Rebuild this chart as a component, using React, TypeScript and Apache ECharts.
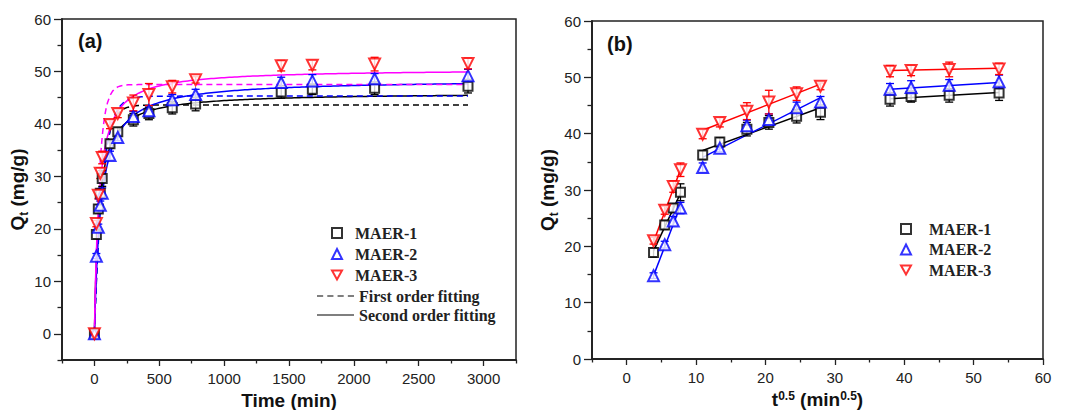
import React, { useEffect, useRef } from "react";
import * as echarts from "echarts";

// contact time (min) and its square root
const times = [0, 15, 30, 45, 60, 120, 180, 300, 420, 600, 780, 1440, 1680, 2160, 2880];
const sqrtTimes = [0, 3.87, 5.48, 6.71, 7.75, 10.95, 13.42, 17.32, 20.49, 24.49, 27.93, 37.95, 40.99, 46.48, 53.67];

// adsorbed amount Qt (mg/g)
const maer1 = [0, 18.9, 23.8, 26.8, 29.6, 36.2, 38.5, 40.8, 42.0, 43.1, 43.8, 46.1, 46.6, 46.8, 47.2];
const maer2 = [0, 14.8, 20.3, 24.5, 26.8, 34.0, 37.4, 41.4, 42.5, 44.6, 45.6, 47.9, 48.2, 48.6, 49.2];
const maer3 = [0, 21.0, 26.4, 30.6, 33.6, 39.9, 42.0, 44.0, 45.6, 47.1, 48.4, 51.1, 51.2, 51.4, 51.5];

// error bar half-widths
const err1 = [0, 0.8, 0.8, 0.8, 1.5, 0.8, 0.8, 1.2, 1.2, 1.2, 1.3, 1.2, 1.0, 1.2, 1.3];
const err2 = [0, 0.5, 0.6, 0.8, 1.0, 0.8, 0.6, 1.0, 1.0, 1.0, 1.0, 1.0, 1.2, 1.0, 1.2];
const err3 = [0, 0.6, 0.7, 1.0, 1.2, 0.8, 0.8, 1.5, 2.1, 1.2, 0.6, 1.0, 0.9, 1.3, 1.0];

// kinetic fitting parameters: [qe, k]
const firstOrderParams = [
  [43.6, 0.018],
  [45.3, 0.016],
  [47.5, 0.026],
];
const secondOrderParams = [
  [46.0, 0.00062],
  [48.5, 0.000412],
  [50.5, 0.000575],
];

// intra-particle diffusion fitted segments [[x1, y1], [x2, y2]]
const ipd1 = [
  [[3.87, 19.2], [7.75, 29.4]],
  [[10.95, 37.0], [27.93, 44.6]],
  [[37.95, 46.2], [53.67, 47.3]],
];
const ipd2 = [
  [[3.87, 14.8], [7.75, 27.2]],
  [[10.95, 35.8], [27.93, 46.4]],
  [[37.95, 47.9], [53.67, 49.1]],
];
const ipd3 = [
  [[3.87, 20.8], [7.75, 33.6]],
  [[10.95, 40.6], [27.93, 48.8]],
  [[37.95, 51.2], [53.67, 51.6]],
];

const leftXTicks = [0, 500, 1000, 1500, 2000, 2500, 3000];
const leftXMinor = [-250, 250, 750, 1250, 1750, 2250, 2750, 3250];
const yTicks = [0, 10, 20, 30, 40, 50, 60];
const leftYMinor = [-5, 5, 15, 25, 35, 45, 55];
const rightYMinor = [5, 15, 25, 35, 45, 55];
const rightXTicks = [0, 10, 20, 30, 40, 50, 60];
const rightXMinor = [-5, 5, 15, 25, 35, 45, 55];

const names = ["MAER-1", "MAER-2", "MAER-3"];
const fitNames = ["First order fitting", "Second order fitting"];
const markColors = ["#000000", "#0000ff", "#ff0000"];
const fitColors = ["#000000", "#0000ff", "#ff00ff"];
const symbols = ["rect", "triangle", "triangle"];
const rotates = [0, 0, 180];
const sizes = [9, 11, 11];

const SANS = "Liberation Sans, Arial, sans-serif";
const SERIF = "Liberation Serif, Times New Roman, serif";

function curveTimes() {
  const ts: number[] = [];
  for (let t = 0; t < 100; t += 1) ts.push(t);
  for (let t = 100; t <= 2880; t += 20) ts.push(t);
  return ts;
}

function errSeries(xs: number[], ys: number[], es: number[], color: string, xi: number, yi: number) {
  return {
    type: "custom",
    xAxisIndex: xi,
    yAxisIndex: yi,
    silent: true,
    z: 3,
    encode: { x: 0, y: [1, 2] },
    data: xs.map((x, i) => [x, ys[i] - es[i], ys[i] + es[i]]),
    renderItem: (_p: any, api: any) => {
      const lo = api.coord([api.value(0), api.value(1)]);
      const hi = api.coord([api.value(0), api.value(2)]);
      const w = 4;
      const st = { stroke: color, lineWidth: 1.3 };
      return {
        type: "group",
        children: [
          { type: "line", shape: { x1: lo[0], y1: lo[1], x2: hi[0], y2: hi[1] }, style: st },
          { type: "line", shape: { x1: lo[0] - w, y1: lo[1], x2: lo[0] + w, y2: lo[1] }, style: st },
          { type: "line", shape: { x1: hi[0] - w, y1: hi[1], x2: hi[0] + w, y2: hi[1] }, style: st },
        ],
      };
    },
  };
}

const tickLine = { color: "#222", width: 1.3 };
const labelStyle = { color: "#222", fontFamily: SANS, fontSize: 15, formatter: (v: number) => String(v) };

function mainAxis(gridIndex: number, min: number, max: number, ticks: number[], len: number, margin: number) {
  return {
    type: "value", gridIndex, min, max,
    axisLine: { show: true, onZero: false, lineStyle: { color: "#222", width: 1.5 } },
    splitLine: { show: false },
    axisTick: { show: true, customValues: ticks, length: len, lineStyle: tickLine },
    axisLabel: { customValues: ticks, margin, ...labelStyle },
  };
}
function minorAxis(gridIndex: number, min: number, max: number, ticks: number[], len: number) {
  return {
    type: "value", gridIndex, min, max, show: true,
    axisLine: { show: true, onZero: false, lineStyle: { color: "#222", width: 1.5 } },
    splitLine: { show: false },
    axisTick: { show: true, customValues: ticks, length: len, lineStyle: tickLine },
    axisLabel: { show: false },
  };
}

const yName = {
  name: "{b|Q}{sub|t}{b| (mg/g)}", nameLocation: "middle", nameGap: 31, nameRotate: 90,
  nameTextStyle: {
    fontFamily: SANS, fontWeight: "bold", fontSize: 19, color: "#111",
    rich: {
      b: { fontFamily: SANS, fontWeight: "bold", fontSize: 19, color: "#111", lineHeight: 22, verticalAlign: "top" },
      sub: { fontFamily: SANS, fontWeight: "bold", fontSize: 12, color: "#111", lineHeight: 22, verticalAlign: "bottom" },
    },
  },
};

const markerLegendText = { fontFamily: SERIF, fontWeight: "bold", fontSize: 16, color: "#222" };

function markerLegendData() {
  return names.map((n, i) =>
    i === 2
      ? {
          name: n,
          icon: "path://M0,0L10,0L5,9Z",
          itemStyle: { color: "#ffffff", borderColor: markColors[i], borderWidth: 2 },
        }
      : { name: n }
  );
}

export default function App() {
  const ref = useRef<HTMLDivElement>(null);
  useEffect(() => {
    if (!ref.current) return;
    const chart = echarts.init(ref.current, undefined, { renderer: "svg" });
    const data = [maer1, maer2, maer3];
    const errs = [err1, err2, err3];
    const ipds = [ipd1, ipd2, ipd3];
    const ts = curveTimes();

    const series: any[] = [];
    for (let i = 0; i < 3; i++) {
      const [qe1, k1] = firstOrderParams[i];
      series.push({
        type: "line",
        name: i === 0 ? fitNames[0] : "fo" + i,
        xAxisIndex: 0, yAxisIndex: 0, symbol: "none", z: 2,
        lineStyle: { color: fitColors[i], width: 1.5, type: [6, 4] },
        itemStyle: { color: fitColors[i] },
        data: ts.map((t) => [t, qe1 * (1 - Math.exp(-k1 * t))]),
      });
      const [qe2, k2] = secondOrderParams[i];
      series.push({
        type: "line",
        name: i === 0 ? fitNames[1] : "so" + i,
        xAxisIndex: 0, yAxisIndex: 0, symbol: "none", z: 2,
        lineStyle: { color: fitColors[i], width: 1.5 },
        itemStyle: { color: fitColors[i] },
        data: ts.map((t) => [t, (qe2 * qe2 * k2 * t) / (1 + qe2 * k2 * t)]),
      });
    }
    for (let i = 0; i < 3; i++) series.push(errSeries(times, data[i], errs[i], markColors[i], 0, 0));
    for (let i = 0; i < 3; i++) {
      series.push({
        type: "scatter", name: names[i], xAxisIndex: 0, yAxisIndex: 0, z: 4,
        symbol: symbols[i], symbolRotate: rotates[i], symbolSize: sizes[i],
        itemStyle: { color: "#ffffff", borderColor: markColors[i], borderWidth: 2 },
        data: times.map((t, j) => [t, data[i][j]]),
      });
    }
    for (let i = 0; i < 3; i++) {
      ipds[i].forEach((seg, s) => {
        series.push({
          type: "line", name: "ipd" + i + "-" + s, xAxisIndex: 2, yAxisIndex: 2, symbol: "none", z: 2,
          lineStyle: { color: markColors[i], width: 1.5 },
          data: seg,
        });
      });
    }
    for (let i = 0; i < 3; i++) {
      series.push(errSeries(sqrtTimes.slice(1), data[i].slice(1), errs[i].slice(1), markColors[i], 2, 2));
    }
    for (let i = 0; i < 3; i++) {
      series.push({
        type: "scatter", name: names[i], xAxisIndex: 2, yAxisIndex: 2, z: 4,
        symbol: symbols[i], symbolRotate: rotates[i], symbolSize: sizes[i],
        itemStyle: { color: "#ffffff", borderColor: markColors[i], borderWidth: 2 },
        data: sqrtTimes.slice(1).map((t, j) => [t, data[i][j + 1]]),
      });
    }

    chart.setOption({
      animation: false,
      backgroundColor: "#ffffff",
      grid: [
        { left: 62, top: 19, width: 454, height: 341, show: true, borderColor: "#222", borderWidth: 1.5, containLabel: false, outerBoundsMode: "none" },
        { left: 592, top: 21, width: 451, height: 338, show: true, borderColor: "#222", borderWidth: 1.5, containLabel: false, outerBoundsMode: "none" },
      ],
      xAxis: [
        {
          ...mainAxis(0, -250, 3250, leftXTicks, 6, 11), position: "bottom",
          name: "Time (min)", nameLocation: "middle", nameGap: 25,
          nameTextStyle: { fontFamily: SANS, fontWeight: "bold", fontSize: 19, color: "#111" },
        },
        { ...minorAxis(0, -250, 3250, leftXMinor, 3.5), position: "bottom" },
        {
          ...mainAxis(1, -5, 60, rightXTicks, 6, 11), position: "bottom",
          name: "{b|t}{sup|0.5}{b| (min}{sup|0.5}{b|)}", nameLocation: "middle", nameGap: 22,
          nameTextStyle: {
            fontFamily: SANS, fontWeight: "bold", fontSize: 19, color: "#111",
            rich: {
              b: { fontFamily: SANS, fontWeight: "bold", fontSize: 19, color: "#111", lineHeight: 20, verticalAlign: "middle" },
              sup: { fontFamily: SANS, fontWeight: "bold", fontSize: 12, color: "#111", lineHeight: 20, verticalAlign: "top" },
            },
          },
        },
        { ...minorAxis(1, -5, 60, rightXMinor, 3.5), position: "bottom" },
      ],
      yAxis: [
        { ...mainAxis(0, -5, 60, yTicks, 8, 11), position: "left", ...yName },
        { ...minorAxis(0, -5, 60, leftYMinor, 4.5), position: "left" },
        { ...mainAxis(1, 0, 60, yTicks, 8, 11), position: "left", ...yName },
        { ...minorAxis(1, 0, 60, rightYMinor, 4.5), position: "left" },
      ],
      legend: [
        {
          left: 331, top: 225, padding: 0, orient: "vertical", itemWidth: 10, itemHeight: 10, itemGap: 5,
          data: markerLegendData(),
          textStyle: { ...markerLegendText, padding: [0, 0, 0, 8] },
          selectedMode: false,
        },
        {
          left: 317, top: 288, padding: 0, orient: "vertical", itemWidth: 37, itemHeight: 1.5, itemGap: 3,
          data: [
            { name: fitNames[0], icon: "path://M0,0h6v1h-6zM10,0h6v1h-6zM20,0h6v1h-6zM30,0h6v1h-6z" },
            { name: fitNames[1], icon: "path://M0,0h36v1h-36z" },
          ],
          itemStyle: { color: "#000" },
          textStyle: { ...markerLegendText },
          selectedMode: false,
        },
        {
          left: 900, top: 221, padding: 0, orient: "vertical", itemWidth: 10, itemHeight: 10, itemGap: 4.5,
          data: markerLegendData(),
          textStyle: { ...markerLegendText, padding: [0, 0, 0, 13] },
          selectedMode: false,
        },
      ],
      graphic: [
        { type: "text", left: 78, top: 31, style: { text: "(a)", font: "bold 20px " + SANS, fill: "#111" } },
        { type: "text", left: 607, top: 34, style: { text: "(b)", font: "bold 20px " + SANS, fill: "#111" } },
      ],
      series,
    });
    return () => chart.dispose();
  }, []);
  return <div ref={ref} style={{ position: "fixed", left: 0, top: 0, width: 1065, height: 410 }} />;
}
